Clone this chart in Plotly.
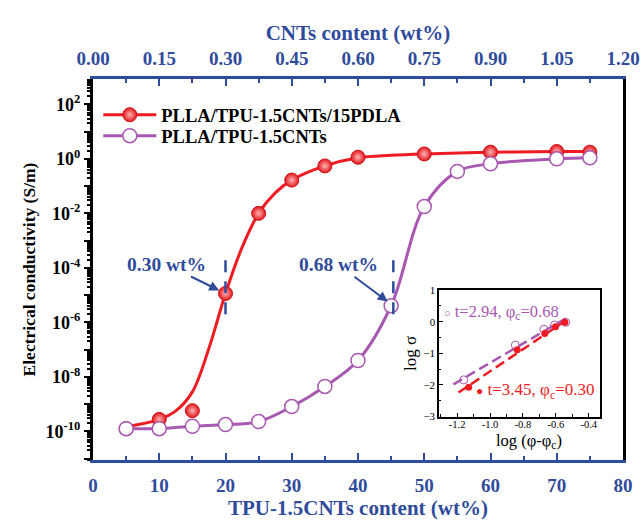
import plotly.graph_objects as go

# ---------------- data ----------------
tpu_red = [5, 10, 15, 20, 25, 30, 35, 40, 50, 60, 70, 75]
red_log = [-9.90, -9.56, -9.24, -4.94, -2.00, -0.78, -0.26, 0.06, 0.18, 0.245, 0.27, 0.245]

red_curve_x = [5, 10, 12.5, 15, 17.5, 20, 22.5, 25, 27.5, 30, 35, 40, 45, 50, 60, 70, 75]
red_curve_log = [-9.83, -9.56, -9.25, -8.55, -6.95, -4.94, -3.25, -2.00, -1.25, -0.78,
                 -0.26, 0.04, 0.13, 0.18, 0.24, 0.27, 0.27]

tpu_purple = [5, 10, 15, 20, 25, 30, 35, 40, 45, 50, 55, 60, 70, 75]
purple_log = [-9.90, -9.90, -9.81, -9.75, -9.64, -9.09, -8.35, -7.40, -5.39, -1.75,
              -0.46, -0.18, 0.00, 0.036]

cnt_per_tpu = 0.015           # CNT wt% per TPU-1.5CNTs wt%
perc_cnt = [0.30, 0.68]       # percolation thresholds (CNTs wt%)
perc_labels = ["0.30 wt%", "0.68 wt%"]
perc_span_log = [-3.72, -5.93]

top_ticks = [0.00, 0.15, 0.30, 0.45, 0.60, 0.75, 0.90, 1.05, 1.20]
bottom_ticks = [0, 10, 20, 30, 40, 50, 60, 70, 80]

# inset (log sigma vs log(phi - phi_c))
in_red_x = [-1.13, -0.835, -0.667, -0.602, -0.545]
in_red_y = [-2.07, -0.89, -0.37, -0.16, -0.02]
in_pur_x = [-1.16, -0.846, -0.673, -0.608, -0.54]
in_pur_y = [-1.84, -0.74, -0.24, -0.105, -0.02]
in_red_fit_x = [-1.192, -0.53]
in_red_fit_y = [-2.24, 0.07]
in_pur_fit_x = [-1.223, -0.53]
in_pur_fit_y = [-1.98, 0.13]

RED = "#ee1c22"
PURPLE = "#a858b0"
BLUE = "#2f4b9c"
FONT = "Liberation Serif"

def pw(v):
    return [10 ** a for a in v]

fig = go.Figure()

red_marker = dict(symbol="circle", size=14, color="#e3161c",
                  gradient=dict(type="radial", color="#ffb4b4"),
                  line=dict(color="#d01018", width=1))
pur_marker = dict(symbol="circle", size=14, color="white",
                  line=dict(color=PURPLE, width=1.5))

# red fitted curve and points
fig.add_trace(go.Scatter(x=red_curve_x, y=pw(red_curve_log), mode="lines",
                         line=dict(color=RED, width=3, shape="spline"),
                         showlegend=False, hoverinfo="skip"))
fig.add_trace(go.Scatter(x=tpu_red, y=pw(red_log), mode="markers",
                         marker=red_marker, showlegend=False))
# purple curve and points
fig.add_trace(go.Scatter(x=tpu_purple, y=pw(purple_log), mode="lines",
                         line=dict(color=PURPLE, width=3, shape="spline"),
                         showlegend=False, hoverinfo="skip"))
fig.add_trace(go.Scatter(x=tpu_purple, y=pw(purple_log), mode="markers",
                         marker=pur_marker, showlegend=False))

# legend entries (two single-item legends for tight spacing)
fig.add_trace(go.Scatter(x=[None], y=[None], mode="lines+markers", name="PLLA/TPU-1.5CNTs/15PDLA",
                         line=dict(color=RED, width=3), marker=red_marker, legend="legend"))
fig.add_trace(go.Scatter(x=[None], y=[None], mode="lines+markers", name="PLLA/TPU-1.5CNTs",
                         line=dict(color=PURPLE, width=3), marker=pur_marker, legend="legend2"))

# dummy trace for the top axis
fig.add_trace(go.Scatter(x=[top_ticks[0], top_ticks[-1]], y=[None, None], xaxis="x2",
                         mode="markers", showlegend=False, hoverinfo="skip"))

# percolation markers and labels
pts_log = [red_log[tpu_red.index(20)], purple_log[tpu_purple.index(45)]]
offsets = [(-59, -29), (-55, -41)]
for pc, lab, ylog, (ax, ay) in zip(perc_cnt, perc_labels, pts_log, offsets):
    xt = pc / cnt_per_tpu
    fig.add_trace(go.Scatter(x=[xt, xt], y=pw(perc_span_log), mode="lines",
                             line=dict(color=BLUE, width=2.5, dash="12px,9px"),
                             showlegend=False, hoverinfo="skip"))
    fig.add_annotation(x=xt, y=ylog, xref="x", yref="y", text=f"<b>{lab}</b>",
                       showarrow=True, ax=ax, ay=ay, arrowhead=2, arrowsize=1,
                       arrowwidth=2, arrowcolor=BLUE, standoff=7,
                       font=dict(family=FONT, size=19.5, color=BLUE))

# inset traces
fig.add_trace(go.Scatter(x=in_pur_fit_x, y=in_pur_fit_y, xaxis="x3", yaxis="y3", mode="lines",
                         line=dict(color=PURPLE, width=2.5, dash="10px,5px"), showlegend=False))
fig.add_trace(go.Scatter(x=in_red_fit_x, y=in_red_fit_y, xaxis="x3", yaxis="y3", mode="lines",
                         line=dict(color=RED, width=2.5, dash="10px,5px"), showlegend=False))
fig.add_trace(go.Scatter(x=in_pur_x, y=in_pur_y, xaxis="x3", yaxis="y3", mode="markers",
                         marker=dict(symbol="circle-open", size=8, color=PURPLE, line=dict(width=1)),
                         showlegend=False))
fig.add_trace(go.Scatter(x=in_red_x, y=in_red_y, xaxis="x3", yaxis="y3", mode="markers",
                         marker=dict(symbol="circle", size=7, color=RED), showlegend=False))

fig.add_annotation(x=0.02, y=0.83, xref="x3 domain", yref="y3 domain", xanchor="left", yanchor="middle",
                   showarrow=False, text="<span style='font-size:11px'>○</span> t=2.94, φ<sub>c</sub>=0.68",
                   font=dict(family=FONT, size=16.5, color=PURPLE))
fig.add_annotation(x=0.98, y=0.20, xref="x3 domain", yref="y3 domain", xanchor="right", yanchor="middle",
                   showarrow=False, text="<span style='font-size:12px'>●</span> t=3.45, φ<sub>c</sub>=0.30",
                   font=dict(family=FONT, size=17, color=RED))
# inset x-axis title (sits tight under the tick labels)
fig.add_annotation(x=0.56, y=0.050, xref="x3 domain", yref="paper", xanchor="center", yanchor="middle",
                   showarrow=False, text="log (φ-φ<sub>c</sub>)",
                   font=dict(family=FONT, size=16.5, color="black"))

# axes
y_tickvals = [10 ** k for k in range(-11, 3)]
y_ticktext = [f"10<sup>{k}</sup>" if k % 2 == 0 else "" for k in range(-11, 3)]
y_minor = [m * 10 ** k for k in range(-12, 3) for m in range(2, 10)]

legend_font = dict(family=FONT, size=18.5, color="black", weight="bold")

fig.update_layout(
    width=643, height=524,
    margin=dict(l=93, r=20, t=79, b=64, autoexpand=False),
    paper_bgcolor="white", plot_bgcolor="white",
    font=dict(family=FONT),
    showlegend=True,
    legend=dict(x=0.01, y=0.905, xanchor="left", yanchor="middle", bgcolor="rgba(0,0,0,0)",
                font=legend_font, itemwidth=53),
    legend2=dict(x=0.01, y=0.850, xanchor="left", yanchor="middle", bgcolor="rgba(0,0,0,0)",
                 font=legend_font, itemwidth=53),
    xaxis=dict(range=[0, 80], tickvals=bottom_ticks, ticks="inside", ticklen=7, tickwidth=2,
               tickcolor=BLUE, showline=True, linecolor=BLUE, linewidth=2.5, mirror=False,
               showgrid=False, zeroline=False, automargin=False, ticklabelstandoff=6,
               minor=dict(dtick=5, ticks="inside", ticklen=4, tickwidth=2, tickcolor=BLUE),
               tickfont=dict(family=FONT, size=19, color=BLUE, weight="bold"),
               title=dict(text="<b>TPU-1.5CNTs content (wt%)</b>", standoff=0,
                          font=dict(family=FONT, size=21, color=BLUE))),
    xaxis2=dict(range=[0, 1.2], overlaying="x", side="top", tickvals=top_ticks,
                ticktext=[f"{t:.2f}" for t in top_ticks], ticks="inside", ticklen=7, tickwidth=2,
                tickcolor=BLUE, showline=True, linecolor=BLUE, linewidth=2.5, showgrid=False,
                zeroline=False, automargin=False, ticklabelstandoff=4,
                minor=dict(dtick=0.075, ticks="inside", ticklen=4, tickwidth=2, tickcolor=BLUE),
                tickfont=dict(family=FONT, size=19, color=BLUE, weight="bold"),
                title=dict(text="<b>CNTs content (wt%)</b>", standoff=2,
                           font=dict(family=FONT, size=21, color=BLUE))),
    yaxis=dict(type="log", range=[-11.05, 2.93], tickvals=y_tickvals, ticktext=y_ticktext,
               ticks="outside", ticklen=6, tickwidth=2, tickcolor="black",
               showline=True, linecolor="black", linewidth=3, mirror=True,
               showgrid=False, zeroline=False, automargin=False,
               minor=dict(tickvals=y_minor, ticks="outside", ticklen=3.5, tickwidth=1.5,
                          tickcolor="black"),
               tickfont=dict(family=FONT, size=18, color="black", weight="bold"),
               title=dict(text="<b>Electrical conductivity (S/m)</b>", standoff=6,
                          font=dict(family=FONT, size=17.5, color="black"))),
    xaxis3=dict(domain=[0.653, 0.957], anchor="y3", range=[-1.31, -0.33],
                tickvals=[-1.2, -1.0, -0.8, -0.6, -0.4],
                ticktext=["-1.2", "-1.0", "-0.8", "-0.6", "-0.4"],
                ticks="inside", ticklen=4, tickwidth=1.2, tickcolor="black",
                minor=dict(dtick=0.1, tick0=-1.2, ticks="inside", ticklen=2.5, tickcolor="black"),
                showline=True, linecolor="black", linewidth=1.5, mirror=True,
                showgrid=False, zeroline=False, automargin=False, ticklabelstandoff=-3,
                tickfont=dict(family=FONT, size=10.5, color="black")),
    yaxis3=dict(domain=[0.114, 0.446], anchor="x3", range=[-3, 1], dtick=1,
                ticks="inside", ticklen=4, tickwidth=1.2, tickcolor="black",
                minor=dict(dtick=0.5, ticks="inside", ticklen=2.5, tickcolor="black"),
                showline=True, linecolor="black", linewidth=1.5, mirror=True,
                showgrid=False, zeroline=False, automargin=False,
                tickfont=dict(family=FONT, size=11, color="black"),
                title=dict(text="log σ", standoff=2,
                           font=dict(family=FONT, size=17, color="black"))),
)

fig.write_html("out.html", config={"displayModeBar": False},
               post_script="document.body.style.margin='0px';")
